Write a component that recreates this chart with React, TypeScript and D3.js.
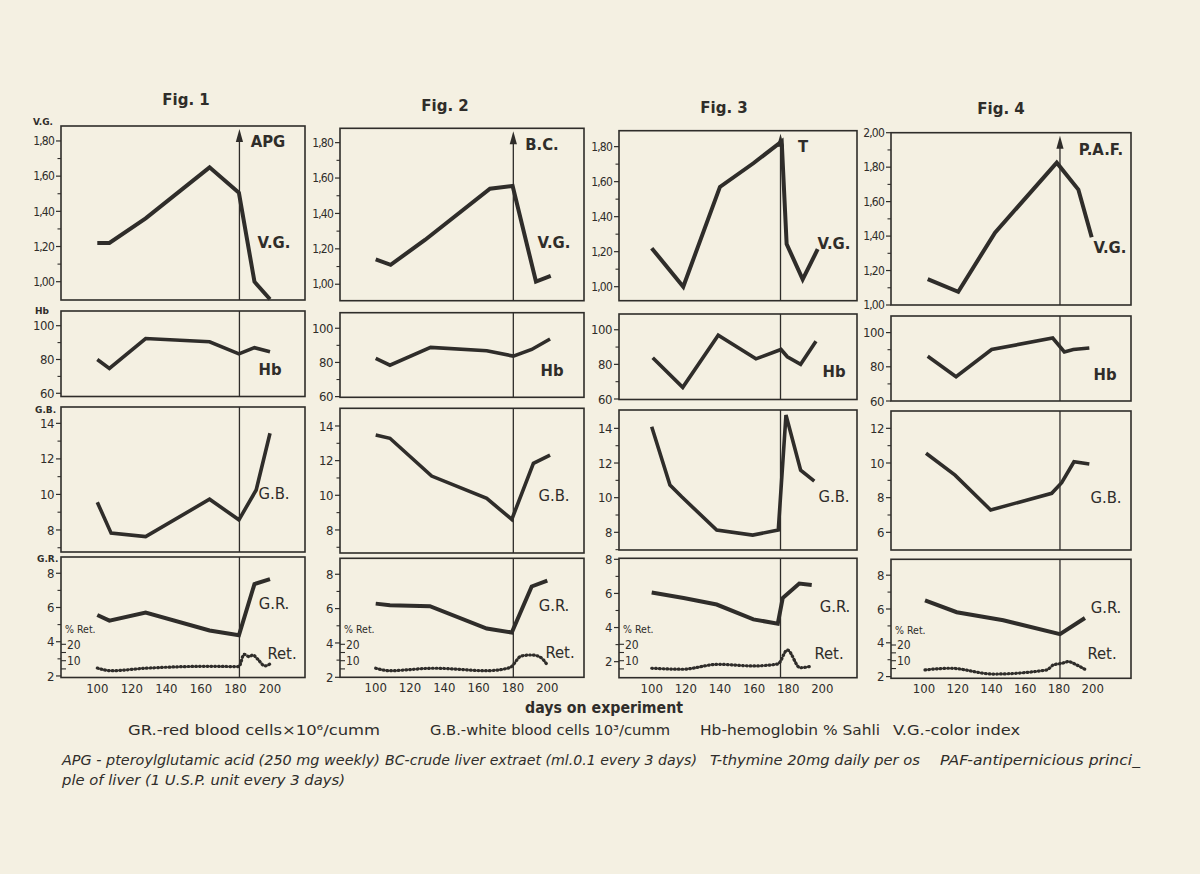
import React from 'react';
import * as d3 from 'd3';

// ---------------- DATA ----------------
const xTickValues = [100, 120, 140, 160, 180, 200];
const interventionDays = [182.3, 180.2, 175.5, 180.6];
const figTitles = ['Fig. 1', 'Fig. 2', 'Fig. 3', 'Fig. 4'];
const agentLabels = ['APG', 'B.C.', 'T', 'P.A.F.'];

// Fig. 1
const f1VgDays = [100, 107, 128, 165, 182, 191, 200];
const f1Vg = [1.22, 1.22, 1.36, 1.65, 1.505, 1.0, 0.9];
const f1HbDays = [100, 107, 128, 165, 182, 191, 200];
const f1Hb = [80, 74.7, 92.4, 90.5, 83.3, 87, 84.6];
const f1GbDays = [100, 108, 128, 165, 182, 192, 200];
const f1Gb = [9.56, 7.82, 7.63, 9.73, 8.57, 10.25, 13.44];
const f1GrDays = [100, 107, 128, 165, 182, 191, 200];
const f1Gr = [5.56, 5.23, 5.71, 4.66, 4.38, 7.37, 7.66];
const f1RetDays = [100, 108, 128, 165, 182, 185, 188, 190, 193, 197, 200];
const f1Ret = [5.5, 3.9, 5.4, 6.6, 6.4, 13.9, 12.4, 13.5, 10.8, 6.8, 8.0];

// Fig. 2
const f2VgDays = [100, 108.7, 128.7, 166.6, 179.8, 193.4, 202];
const f2Vg = [1.14, 1.11, 1.25, 1.54, 1.555, 1.015, 1.047];
const f2HbDays = [100, 108.3, 132, 164.7, 180.2, 190.9, 201.6];
const f2Hb = [82.4, 78.4, 88.8, 86.8, 83.7, 87.6, 93.7];
const f2GbDays = [100, 108.3, 132.6, 164.7, 179.3, 191.9, 201.6];
const f2Gb = [13.48, 13.29, 11.11, 9.82, 8.61, 11.84, 12.32];
const f2GrDays = [100, 108.3, 131.6, 164.7, 179.3, 190.9, 200];
const f2Gr = [6.29, 6.2, 6.14, 4.84, 4.61, 7.29, 7.63];
const f2RetDays = [100, 108, 134, 165, 178, 185, 191, 196, 200];
const f2Ret = [5.4, 3.9, 5.4, 3.9, 5.7, 12.9, 13.5, 12.1, 7.4];

// Fig. 3
const f3VgDays = [100, 118.5, 140, 159.6, 176.2, 179.1, 188.5, 197.3];
const f3Vg = [1.22, 1.0, 1.57, 1.705, 1.83, 1.244, 1.042, 1.214];
const f3HbDays = [100.6, 118.2, 139, 161.1, 175.8, 179.5, 187.3, 196.3];
const f3Hb = [83.8, 66.7, 96.8, 83.2, 88.6, 84.4, 80, 93.3];
const f3GbDays = [100, 110.7, 117.6, 138.1, 159.2, 174.2, 178.7, 187.3, 195.3];
const f3Gb = [14.09, 10.73, 10.05, 8.13, 7.84, 8.13, 14.77, 11.59, 10.96];
const f3GrDays = [100, 118.7, 138.1, 159.6, 173.9, 176.8, 186.5, 193.8];
const f3Gr = [6.06, 5.73, 5.35, 4.48, 4.23, 5.73, 6.58, 6.5];
const f3RetDays = [100, 118, 139, 160, 174, 179.5, 187, 194];
const f3Ret = [5.4, 4.8, 7.8, 6.8, 8.0, 16.5, 5.7, 6.8];

// Fig. 4
const f4VgDays = [102.2, 120.3, 142.1, 178.7, 191.5, 199.4];
const f4Vg = [1.15, 1.077, 1.42, 1.826, 1.67, 1.393];
const f4HbDays = [102.2, 119, 140.1, 176.3, 183.2, 188.5, 198];
const f4Hb = [86.2, 74.2, 90.1, 96.8, 88.7, 90.1, 91];
const f4GbDays = [101.2, 118.4, 139.5, 175.7, 181.6, 188.9, 198];
const f4Gb = [10.56, 9.3, 7.29, 8.25, 8.86, 10.07, 9.94];
const f4GrDays = [100.6, 119.4, 147, 180.6, 195.4];
const f4Gr = [6.51, 5.81, 5.33, 4.51, 5.47];
const f4RetDays = [100.6, 115.4, 141.1, 172.7, 176.7, 181.6, 185.5, 190.5, 195.4];
const f4Ret = [4.1, 5.2, 1.5, 4.1, 7.3, 8.3, 9.4, 7.3, 4.5];

// Axis ticks
const vgMajor = [1.0, 1.2, 1.4, 1.6, 1.8];
const vgMajor4 = [1.0, 1.2, 1.4, 1.6, 1.8, 2.0];
const vgMinor = [1.1, 1.3, 1.5, 1.7];
const vgMinor4 = [1.1, 1.3, 1.5, 1.7, 1.9];
const hbMajor = [60, 80, 100];
const hbMinor = [70, 90];
const gbMajor = [8, 10, 12, 14];
const gbMinor = [7, 9, 11, 13];
const gbMajor4 = [6, 8, 10, 12];
const gbMinor4 = [7, 9, 11];
const grMajor = [2, 4, 6, 8];
const grMinor = [3, 5, 7];
const retMajor = [10, 20];
const retMinor = [5, 15];

const seriesData = [
  { vg: [f1VgDays, f1Vg], hb: [f1HbDays, f1Hb], gb: [f1GbDays, f1Gb], gr: [f1GrDays, f1Gr], ret: [f1RetDays, f1Ret] },
  { vg: [f2VgDays, f2Vg], hb: [f2HbDays, f2Hb], gb: [f2GbDays, f2Gb], gr: [f2GrDays, f2Gr], ret: [f2RetDays, f2Ret] },
  { vg: [f3VgDays, f3Vg], hb: [f3HbDays, f3Hb], gb: [f3GbDays, f3Gb], gr: [f3GrDays, f3Gr], ret: [f3RetDays, f3Ret] },
  { vg: [f4VgDays, f4Vg], hb: [f4HbDays, f4Hb], gb: [f4GbDays, f4Gb], gr: [f4GrDays, f4Gr], ret: [f4RetDays, f4Ret] },
];

// ---------------- LAYOUT ----------------
const LAYOUT = [
  {
    titleX: 186, titleY: 105, x100: 97.3, x200: 270, left: 61, right: 305,
    vg: { top: 126, bottom: 300, lo: 0.896, hi: 1.885 },
    hb: { top: 311, bottom: 396.5, lo: 58.1, hi: 108.7 },
    gb: { top: 407, bottom: 552, lo: 6.76, hi: 14.92 },
    gr: { top: 557, bottom: 677.5, lo: 1.91, hi: 8.95 },
    ret: { y0: 677.1, y20: 644.3 },
    agent: [268, 147],
    lab: { vg: [274, 248], hb: [270, 375], gb: [274, 499], gr: [274, 609], ret: [282, 659] },
    gbTicks: 0, vgTicks: 0,
  },
  {
    titleX: 445, titleY: 111, x100: 375.7, x200: 547.3, left: 340, right: 584,
    vg: { top: 128.3, bottom: 300.7, lo: 0.907, hi: 1.881 },
    hb: { top: 312.7, bottom: 397.3, lo: 59.6, hi: 109.1 },
    gb: { top: 408.3, bottom: 553, lo: 6.67, hi: 15.02 },
    gr: { top: 558.3, bottom: 677.3, lo: 2.0, hi: 8.93 },
    ret: { y0: 677.1, y20: 644.3 },
    agent: [542, 150],
    lab: { vg: [554, 248], hb: [552, 376], gb: [554, 500.5], gr: [554, 610.5], ret: [560, 658] },
    gbTicks: 0, vgTicks: 0,
  },
  {
    titleX: 724, titleY: 113, x100: 651.7, x200: 822.3, left: 619, right: 857,
    vg: { top: 130.7, bottom: 300.7, lo: 0.92, hi: 1.891 },
    hb: { top: 314, bottom: 399.5, lo: 59.7, hi: 109.1 },
    gb: { top: 410, bottom: 550, lo: 6.98, hi: 15.06 },
    gr: { top: 558.3, bottom: 677.7, lo: 1.06, hi: 8.06 },
    ret: { y0: 677.1, y20: 644.3 },
    agent: [803, 152],
    lab: { vg: [834, 249], hb: [834, 377], gb: [834, 502], gr: [835, 612], ret: [829, 659] },
    gbTicks: 0, vgTicks: 0,
  },
  {
    titleX: 1001, titleY: 114, x100: 924, x200: 1092.7, left: 891, right: 1131,
    vg: { top: 132.7, bottom: 305, lo: 1.0, hi: 2.0 },
    hb: { top: 316, bottom: 401, lo: 60, hi: 109.7 },
    gb: { top: 411, bottom: 550, lo: 4.98, hi: 13.0 },
    gr: { top: 559.3, bottom: 678.3, lo: 1.9, hi: 8.94 },
    ret: { y0: 676.4, y20: 645 },
    agent: [1101, 155],
    lab: { vg: [1110, 253], hb: [1105, 380], gb: [1106, 503], gr: [1106, 613], ret: [1102, 659] },
    gbTicks: 1, vgTicks: 1,
  },
];

const INK = '#2f2d2a';
const BG = '#f4f0e2';
const FONT = "'DejaVu Sans Condensed','DejaVu Sans','Liberation Sans',sans-serif";
const FONT2 = "'DejaVu Sans','Liberation Sans',sans-serif";

const fmtVG = (v: number) => d3.format('.2f')(v).replace('.', ',');
const fmtInt = (v: number) => String(v);

function YAxis({ x, scale, major, minor, fmt, fs = 11, ls = -0.4 }: any) {
  return (
    <g>
      {major.map((v: number) => (
        <g key={'M' + v}>
          <line x1={x - 5} x2={x} y1={scale(v)} y2={scale(v)} stroke={INK} strokeWidth={1.2} />
          <text x={x - 7} y={scale(v)} dy="0.35em" textAnchor="end" fontSize={fs} fontFamily={FONT} fill={INK} letterSpacing={ls}>
            {fmt(v)}
          </text>
        </g>
      ))}
      {minor.map((v: number) => (
        <line key={'m' + v} x1={x - 3.5} x2={x} y1={scale(v)} y2={scale(v)} stroke={INK} strokeWidth={1.1} />
      ))}
    </g>
  );
}

function Figure({ idx }: { idx: number }) {
  const L: any = LAYOUT[idx];
  const S: any = seriesData[idx];
  const x = d3.scaleLinear().domain([100, 200]).range([L.x100, L.x200]);
  const mk = (p: any) => d3.scaleLinear().domain([p.lo, p.hi]).range([p.bottom, p.top]);
  const yVg = mk(L.vg);
  const yHb = mk(L.hb);
  const yGb = mk(L.gb);
  const yGr = mk(L.gr);
  const yRet = d3.scaleLinear().domain([0, 20]).range([L.ret.y0, L.ret.y20]);
  const path = (pair: number[][], ys: any) => {
    const pts: [number, number][] = pair[0].map((d, i) => [x(d), ys(pair[1][i])]);
    return d3.line()(pts) || '';
  };
  const vx = x(interventionDays[idx]);
  const panels = [L.vg, L.hb, L.gb, L.gr];
  const labStyle = { fontFamily: FONT, fontSize: 16.5, fontWeight: 700, fill: INK } as any;

  return (
    <g>
      <text x={L.titleX} y={L.titleY} textAnchor="middle" fontFamily={FONT2} fontSize={15} fontWeight={700} fill={INK}>
        {figTitles[idx]}
      </text>
      {panels.map((p: any, i: number) => (
        <rect key={i} x={L.left} y={p.top} width={L.right - L.left} height={p.bottom - p.top} fill="none" stroke={INK} strokeWidth={1.6} />
      ))}
      {panels.map((p: any, i: number) => (
        <line key={'v' + i} x1={vx} x2={vx} y1={i === 0 ? p.top + 12 : p.top} y2={p.bottom} stroke={INK} strokeWidth={1.3} />
      ))}
      <path d={`M${vx},${L.vg.top + 3} L${vx - 3.6},${L.vg.top + 16} L${vx + 3.6},${L.vg.top + 16} Z`} fill={INK} />
      <text x={L.agent[0]} y={L.agent[1]} textAnchor="middle" {...labStyle}>
        {agentLabels[idx]}
      </text>

      <YAxis x={L.left} scale={yVg} major={L.vgTicks ? vgMajor4 : vgMajor} minor={L.vgTicks ? vgMinor4 : vgMinor} fmt={fmtVG} fs={12} ls={-0.8} />
      <YAxis x={L.left} scale={yHb} major={hbMajor} minor={hbMinor} fmt={fmtInt} fs={13} />
      <YAxis x={L.left} scale={yGb} major={L.gbTicks ? gbMajor4 : gbMajor} minor={L.gbTicks ? gbMinor4 : gbMinor} fmt={fmtInt} fs={13} />
      <YAxis x={L.left} scale={yGr} major={grMajor} minor={grMinor} fmt={fmtInt} fs={13} />
      {retMajor.concat(retMinor).map((v) => (
        <line key={'r' + v} x1={L.left} x2={L.left + 5} y1={yRet(v)} y2={yRet(v)} stroke={INK} strokeWidth={1.1} />
      ))}
      {retMajor.map((v) => (
        <text key={'rt' + v} x={L.left + 6} y={yRet(v)} dy="0.35em" fontSize={12} fontFamily={FONT} fill={INK}>
          {v}
        </text>
      ))}
      <text x={L.left + 4} y={yRet(20) - 11} fontSize={10.5} fontFamily={FONT} fill={INK}>
        % Ret.
      </text>

      {xTickValues.map((v) => (
        <text key={'x' + v} x={x(v)} y={L.gr.bottom + 15} textAnchor="middle" fontSize={13} fontFamily={FONT} fill={INK}>
          {v}
        </text>
      ))}

      <g fill="none" stroke={INK} strokeWidth={4} strokeLinejoin="miter" strokeLinecap="butt">
        <path d={path(S.vg, yVg)} />
        <path d={path(S.hb, yHb)} strokeWidth={3.6} />
        <path d={path(S.gb, yGb)} strokeWidth={3.6} />
        <path d={path(S.gr, yGr)} />
      </g>
      <path
        d={d3.line().curve(d3.curveMonotoneX)(S.ret[0].map((d: number, i: number) => [x(d), yRet(S.ret[1][i])]) as any) || ''}
        fill="none"
        stroke={INK}
        strokeWidth={3.2}
        strokeDasharray="0.8 3"
        strokeLinecap="round"
      />

      <text x={L.lab.vg[0]} y={L.lab.vg[1]} textAnchor="middle" {...labStyle}>V.G.</text>
      <text x={L.lab.hb[0]} y={L.lab.hb[1]} textAnchor="middle" {...labStyle}>Hb</text>
      <text x={L.lab.gb[0]} y={L.lab.gb[1]} textAnchor="middle" {...labStyle} fontWeight={400}>G.B.</text>
      <text x={L.lab.gr[0]} y={L.lab.gr[1]} textAnchor="middle" {...labStyle} fontWeight={400}>G.R.</text>
      <text x={L.lab.ret[0]} y={L.lab.ret[1]} textAnchor="middle" {...labStyle} fontWeight={400}>Ret.</text>
    </g>
  );
}

export default function App() {
  const small = { fontFamily: FONT2, fontSize: 9, fontWeight: 700, fill: INK } as any;
  const leg = { fontFamily: FONT, fontSize: 14, fill: INK, lengthAdjust: 'spacingAndGlyphs' } as any;
  const legI = { ...leg, fontStyle: 'italic' } as any;
  return (
    <svg width={1200} height={874} style={{ position: 'absolute', left: 0, top: 0 }} xmlns="http://www.w3.org/2000/svg">
      <rect x={0} y={0} width={1200} height={874} fill={BG} />
      {[0, 1, 2, 3].map((i) => (
        <Figure key={i} idx={i} />
      ))}
      <text x={33} y={125} {...small}>V.G.</text>
      <text x={35} y={314} {...small}>Hb</text>
      <text x={35} y={413} {...small}>G.B.</text>
      <text x={37} y={562} {...small}>G.R.</text>

      <text x={525} y={713} fontFamily={FONT2} fontSize={15.5} fontWeight={700} fill={INK} textLength={158} lengthAdjust="spacingAndGlyphs">
        days on experiment
      </text>

      <text x={128} y={735} {...leg} textLength={252}>GR.-red blood cells×10⁶/cumm</text>
      <text x={430} y={735} {...leg} textLength={240}>G.B.-white blood cells 10³/cumm</text>
      <text x={700} y={735} {...leg} textLength={180}>Hb-hemoglobin % Sahli</text>
      <text x={893} y={735} {...leg} textLength={127}>V.G.-color index</text>

      <text x={62} y={765} {...legI} textLength={318}>APG - pteroylglutamic acid (250 mg weekly)</text>
      <text x={385} y={765} {...legI} textLength={312}>BC-crude liver extraet (ml.0.1 every 3 days)</text>
      <text x={710} y={765} {...legI} textLength={210}>T-thymine 20mg daily per os</text>
      <text x={940} y={765} {...legI} textLength={200}>PAF-antipernicious princi_</text>
      <text x={62} y={785} {...legI} textLength={283}>ple of liver (1 U.S.P. unit every 3 days)</text>
    </svg>
  );
}
